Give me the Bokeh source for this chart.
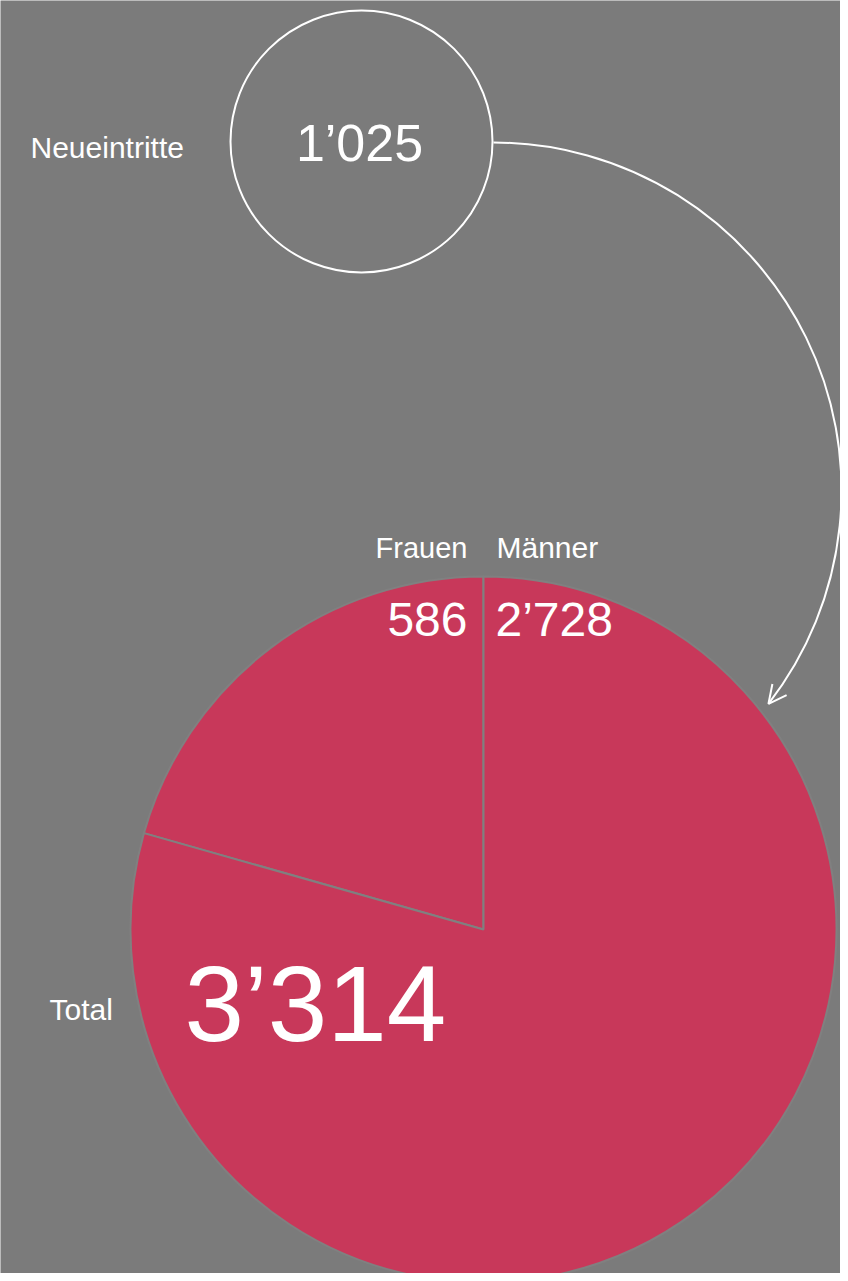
import math
from bokeh.plotting import figure
from bokeh.models import Range1d, Arrow, OpenHead, ColumnDataSource
from bokeh.core.properties import value
from bokeh.embed import file_html
from bokeh.resources import INLINE

# ---- data ----
neu_label = "Neueintritte"
neu_value = "1\u2019025"
total_label = "Total"
total_value = "3\u2019314"
groups = ["Frauen", "Männer"]
group_values = ["586", "2\u2019728"]
# slice shares as drawn in the picture (Frauen, Männer)
slice_shares = [0.206, 0.794]

BG = "#7b7b7b"
PIE = "#c8385a"
FONT = value("Liberation Sans")

W, H = 840, 1273
p = figure(width=W, height=H, x_range=Range1d(0, 840), y_range=Range1d(8, 1281),
           output_backend="svg", toolbar_location=None, min_border=0,
           background_fill_color=BG, border_fill_color=BG, outline_line_color=None)
p.axis.visible = False
p.grid.visible = False

# pie
cx, cy, r = 483, 352, 353
starts, ends = [], []
a = math.pi / 2
for s in slice_shares:
    starts.append(a)
    a += s * 2 * math.pi
    ends.append(a)
src = ColumnDataSource(dict(start=starts, end=ends, name=groups))
p.wedge(x=cx, y=cy, radius=r, start_angle="start", end_angle="end", source=src,
        fill_color=PIE, line_color="#808080", line_width=2)

# small circle
p.circle(x=361, y=1140, radius=131, fill_color=None, line_color="white", line_width=2)

# arrow arc
acx, acy, ar = 493, 791, 348
end_ang = math.radians(-37.8)
p.arc(x=acx, y=acy, radius=ar, start_angle=end_ang, end_angle=math.pi / 2,
      line_color="white", line_width=2)
ex, ey = acx + ar * math.cos(end_ang), acy + ar * math.sin(end_ang)
tx, ty = math.sin(end_ang), -math.cos(end_ang)
p.add_layout(Arrow(end=OpenHead(size=18, line_color="white", line_width=2),
                   x_start=ex - tx * 4, y_start=ey - ty * 4, x_end=ex, y_end=ey,
                   line_color="white", line_width=2))

# texts
def label(x, y, txt, size, align):
    p.text(x=[x], y=[y], text=[txt], text_font=FONT, text_font_size=f"{size}px",
           text_color="white", text_align=align, text_baseline="alphabetic")

label(30, 1134, neu_label, 30, "left")
label(359, 1139, neu_value, 52, "center")
label(467, 734, groups[0], 29, "right")
label(496, 734, groups[1], 30, "left")
label(467, 662, group_values[0], 48, "right")
label(495, 662, group_values[1], 48, "left")
label(49, 272, total_label, 30, "left")
label(184, 278, total_value, 107, "left")

open("out.html", "w").write(file_html(p, INLINE))
